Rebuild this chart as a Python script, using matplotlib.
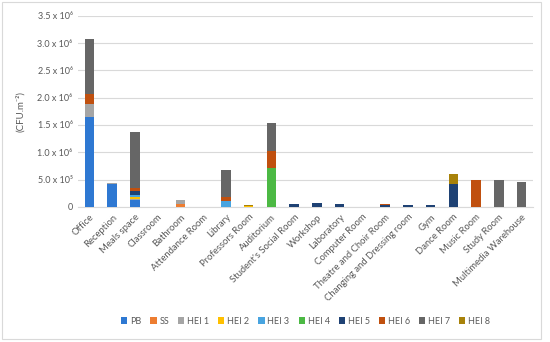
import numpy as np
import matplotlib
matplotlib.use("Agg")
import matplotlib.pyplot as plt
from matplotlib.patches import Rectangle

plt.rcParams["font.family"] = ["Lato", "DejaVu Sans"]

rooms = ["Office", "Reception", "Meals space", "Classroom", "Bathroom",
         "Attendance Room", "Library", "Professors Room", "Auditorium",
         "Student's Social Room", "Workshop", "Laboratory", "Computer Room",
         "Theatre and Choir Room", "Changing and Dressing room", "Gym",
         "Dance Room", "Music Room", "Study Room", "Multimedia Warehouse"]

# values in CFU.m-2 (x 10^6)
pb    = [1.65, 0.415, 0.13, 0, 0,    0, 0,    0,    0,    0,    0,    0,    0, 0,    0,    0,    0,    0,    0,    0]
ss    = [0,    0,     0,    0, 0.05, 0, 0,    0,    0,    0,    0,    0,    0, 0,    0,    0,    0,    0,    0,    0]
hei1  = [0.24, 0.03,  0.02, 0, 0.07, 0, 0,    0,    0,    0,    0,    0,    0, 0,    0,    0,    0,    0,    0,    0]
hei2  = [0,    0,     0.03, 0, 0,    0, 0,    0.01, 0,    0,    0,    0,    0, 0,    0,    0,    0,    0,    0,    0]
hei3  = [0,    0,     0.04, 0, 0,    0, 0.11, 0,    0,    0,    0,    0,    0, 0,    0,    0,    0,    0,    0,    0]
hei4  = [0,    0,     0,    0, 0,    0, 0,    0,    0.71, 0,    0,    0,    0, 0,    0,    0,    0,    0,    0,    0]
hei5  = [0,    0,     0.07, 0, 0,    0, 0,    0,    0,    0.05, 0.07, 0.05, 0, 0.04, 0.04, 0.04, 0.42, 0,    0,    0]
hei6  = [0.17, 0,     0.06, 0, 0,    0, 0.08, 0,    0.32, 0,    0,    0,    0, 0.01, 0,    0,    0,    0.49, 0,    0]
hei7  = [1.02, 0,     1.03, 0, 0,    0, 0.49, 0,    0.50, 0,    0,    0,    0, 0,    0,    0,    0,    0,    0.49, 0.45]
hei8  = [0,    0,     0,    0, 0,    0, 0,    0.02, 0,    0,    0,    0,    0, 0,    0,    0,    0.18, 0,    0,    0]

series = ["PB", "SS", "HEI 1", "HEI 2", "HEI 3", "HEI 4", "HEI 5", "HEI 6", "HEI 7", "HEI 8"]
colors = ["#2E78D2", "#ED7D31", "#A5A5A5", "#FFC000", "#48A4E0",
          "#4CB944", "#1F4274", "#C0500F", "#666666", "#A8820A"]

yticks = [0, 0.5, 1.0, 1.5, 2.0, 2.5, 3.0, 3.5]
ytick_labels = ["0", "5.0 x 10⁵", "1.0 x 10⁶", "1.5 x 10⁶", "2.0 x 10⁶",
                "2.5 x 10⁶", "3.0 x 10⁶", "3.5 x 10⁶"]

fig = plt.figure(figsize=(5.5, 3.42), dpi=100)
ax = fig.add_axes([0.142, 0.395, 0.827, 0.559])

x = np.arange(len(rooms))
bottom = np.zeros(len(rooms))
for name, vals, c in zip(series, [pb, ss, hei1, hei2, hei3, hei4, hei5, hei6, hei7, hei8], colors):
    vals = np.array(vals)
    ax.bar(x, vals, 0.42, bottom=bottom, color=c, label=name, zorder=3)
    bottom += vals

ax.set_xlim(-0.5, len(rooms) - 0.5)
ax.set_ylim(0, 3.5)
ax.set_yticks(yticks)
ax.set_yticklabels(ytick_labels, fontsize=6.5, color="#595959")
ax.set_xticks(x)
ax.set_xticklabels(rooms, rotation=45, ha="right", rotation_mode="anchor",
                   fontsize=6.8, color="#595959")
ax.tick_params(axis="both", length=0, pad=4)
ax.grid(axis="y", color="#D9D9D9", linewidth=0.8, zorder=0)
for s in ["top", "right", "left"]:
    ax.spines[s].set_visible(False)
ax.spines["bottom"].set_color("#D9D9D9")
ax.set_ylabel("(CFU.m⁻²)", fontsize=7, color="#595959", labelpad=9)

ax.legend(loc="center", bbox_to_anchor=(0.5, -0.597), ncol=10,
          frameon=False, fontsize=6.5, handlelength=0.7, handleheight=0.7,
          handletextpad=0.3, columnspacing=1.0, labelcolor="#595959")

fig.patches.append(Rectangle((0.003, 0.01), 0.98, 0.985, transform=fig.transFigure,
                             fill=False, edgecolor="#D9D9D9", linewidth=0.8))

fig.savefig("out.png", dpi=100)
